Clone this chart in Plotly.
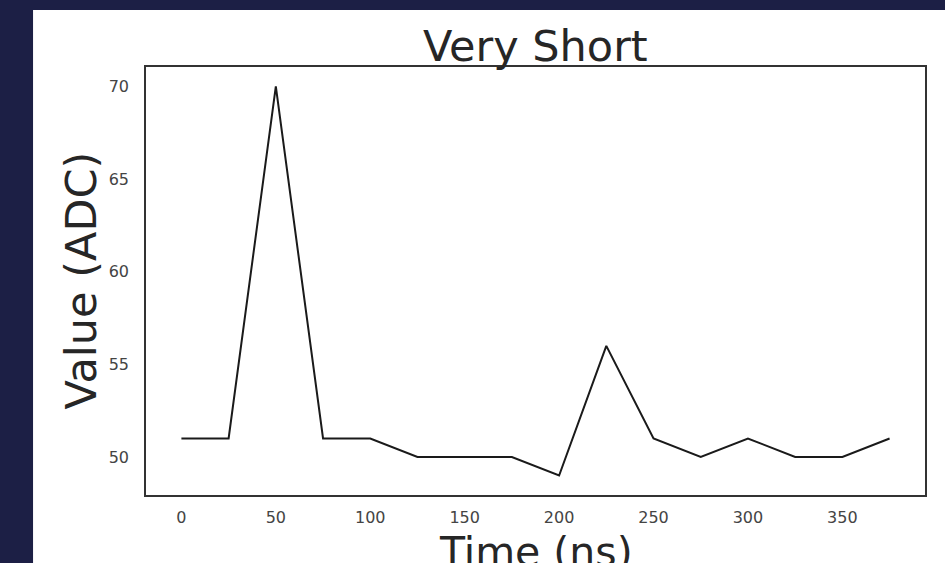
import plotly.graph_objects as go

time_ns = [0, 25, 50, 75, 100, 125, 150, 175, 200, 225, 250, 275, 300, 325, 350, 375]
value_adc = [51, 51, 70, 51, 51, 50, 50, 50, 49, 56, 51, 50, 51, 50, 50, 51]
x_ticks = [0, 50, 100, 150, 200, 250, 300, 350]
y_ticks = [50, 55, 60, 65, 70]

FONT = "DejaVu Sans"
NAVY = "#1c1f45"
TXT = "#262626"

fig = go.Figure()
fig.add_trace(go.Scatter(x=time_ns, y=value_adc, mode="lines",
                         line=dict(color="#1a1a1a", width=2), showlegend=False))

fig.update_layout(
    width=945, height=563,
    margin=dict(l=146, r=20, t=67, b=68, autoexpand=False),
    paper_bgcolor=NAVY,
    plot_bgcolor="white",
    font=dict(family=FONT, color=TXT),
    shapes=[dict(type="rect", xref="paper", yref="paper", x0=-0.145, x1=1.2,
                 y0=-0.3, y1=1.133, fillcolor="white", line=dict(width=0), layer="below")],
    annotations=[
        dict(text="Very Short", xref="paper", yref="paper", x=0.5, y=1.0,
             xanchor="center", yanchor="bottom", yshift=-6, showarrow=False,
             font=dict(size=43, family=FONT, color=TXT)),
        dict(text="Time (ns)", xref="paper", yref="paper", x=0.5, y=-0.072,
             xanchor="center", yanchor="top", showarrow=False,
             font=dict(size=41, family=FONT, color=TXT)),
        dict(text="Value (ADC)", xref="paper", yref="paper", x=-0.084, y=0.5,
             xanchor="center", yanchor="middle", textangle=-90, showarrow=False,
             font=dict(size=43, family=FONT, color=TXT)),
    ],
)
fig.update_xaxes(range=[-18.75, 393.75], tickvals=x_ticks, showgrid=False, zeroline=False,
                 showline=True, mirror=True, linecolor="#333333", linewidth=1.5,
                 ticks="outside", ticklen=7, tickcolor="rgba(0,0,0,0)",
                 tickfont=dict(size=16, color="#444444", family=FONT))
fig.update_yaxes(range=[47.95, 71.05], tickvals=y_ticks, showgrid=False, zeroline=False,
                 showline=True, mirror=True, linecolor="#333333", linewidth=1.5,
                 ticks="outside", ticklen=12, tickcolor="rgba(0,0,0,0)",
                 tickfont=dict(size=16, color="#444444", family=FONT))

fig.write_html("out.html", config={"displayModeBar": False})
with open("out.html", encoding="utf-8") as f:
    html = f.read()
html = html.replace("<head>", "<head><style>html,body{margin:0;padding:0;overflow:hidden}</style>", 1)
with open("out.html", "w", encoding="utf-8") as f:
    f.write(html)
